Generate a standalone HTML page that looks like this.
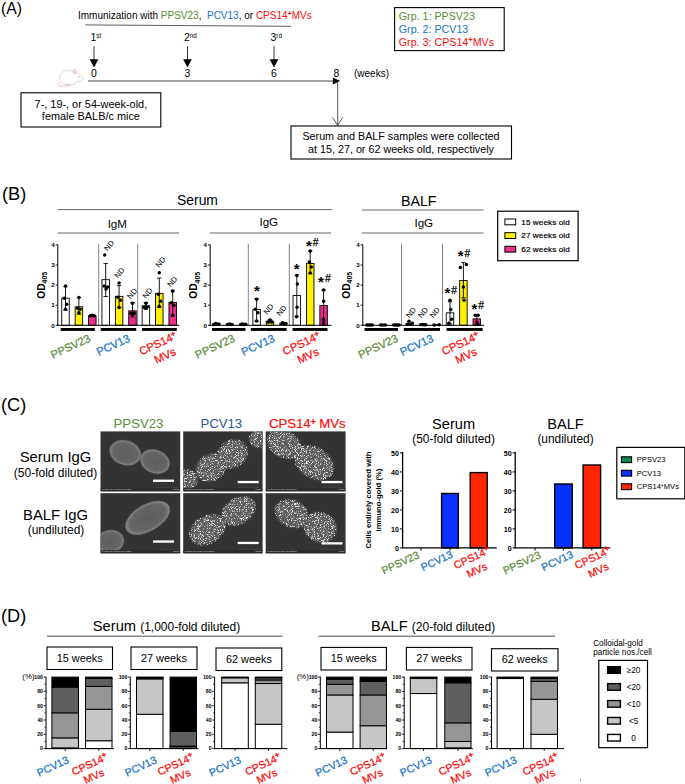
<!DOCTYPE html>
<html lang="en"><head><meta charset="utf-8"><title>Figure</title>
<style>
html,body{margin:0;padding:0;background:#fff;}
svg{display:block;font-family:"Liberation Sans",sans-serif;}
</style></head><body>
<svg width="685" height="784" viewBox="0 0 685 784">
<rect x="0" y="0" width="685" height="784" fill="#fff"/>
<text x="1" y="14.3" font-size="15.8" fill="#000" text-anchor="start" font-weight="normal" >(A)</text>
<text x="78" y="18.5" font-size="10" fill="#000" xml:space="preserve">Immunization with <tspan fill="#5a8c37">PPSV23</tspan>,  <tspan fill="#1a72c4">PCV13</tspan>, or <tspan fill="#fb0d0d">CPS14<tspan font-size="7" font-weight="bold" dy="-3">+</tspan><tspan dy="3">MVs</tspan></tspan></text>
<line x1="85.3" y1="24.9" x2="291" y2="26.3" stroke="#333" stroke-width="0.8" />
<text x="90.5" y="41.3" font-size="10.5" fill="#000">1<tspan font-size="6.3" dy="-3.5">st</tspan></text>
<line x1="94" y1="46.2" x2="94" y2="60" stroke="#000" stroke-width="0.8" />
<polygon points="89.7,59.3 98.3,59.3 94,67.4" fill="#000"/>
<text x="184.0" y="41.3" font-size="10.5" fill="#000">2<tspan font-size="6.3" dy="-3.5">nd</tspan></text>
<line x1="187.5" y1="46.2" x2="187.5" y2="60" stroke="#000" stroke-width="0.8" />
<polygon points="183.2,59.3 191.8,59.3 187.5,67.4" fill="#000"/>
<text x="270.5" y="41.3" font-size="10.5" fill="#000">3<tspan font-size="6.3" dy="-3.5">rd</tspan></text>
<line x1="274" y1="46.2" x2="274" y2="60" stroke="#000" stroke-width="0.8" />
<polygon points="269.7,59.3 278.3,59.3 274,67.4" fill="#000"/>
<text x="94" y="77.2" font-size="10.5" fill="#000" text-anchor="middle" font-weight="normal" >0</text>
<text x="187.5" y="77.2" font-size="10.5" fill="#000" text-anchor="middle" font-weight="normal" >3</text>
<text x="274" y="77.2" font-size="10.5" fill="#000" text-anchor="middle" font-weight="normal" >6</text>
<text x="336.5" y="77.2" font-size="10.5" fill="#000" text-anchor="middle" font-weight="normal" >8</text>
<text x="354" y="77" font-size="10" fill="#000" text-anchor="start" font-weight="normal" >(weeks)</text>
<line x1="88" y1="81" x2="335" y2="81" stroke="#333" stroke-width="0.9" />
<polygon points="332.8,77.6 340.3,81 332.8,84.4" fill="#000"/>
<g fill="#fff" stroke="#c9c9c9" stroke-width="0.7"><path d="M60.5,81.5 C58.5,77 60.5,71.5 66.5,70.8 C70,70.2 72.5,71 74.5,72.6 C77.5,72.4 80,74 81.5,76.2 C83.2,77.4 83.8,79 82.8,80 C81,81.6 78.5,81.8 76.5,81.6 C75.5,83.4 74,84.4 72,84.3 L64.5,84.3 C62.5,84.2 61,83 60.5,81.5 Z"/></g><g fill="none" stroke="#f2a3a3" stroke-width="0.7"><ellipse cx="74.6" cy="71.6" rx="1.7" ry="2" fill="#fbdcdc"/><path d="M60.8,82.3 C58,82.8 57.3,84.8 59.5,85.7 C63,86.8 67,85.3 71,85.6"/><path d="M66.5,84.4 l1.6,0.6 M73.8,83.8 l1.4,0.8"/></g><circle cx="79.6" cy="76.6" r="0.55" fill="#d66"/>
<rect x="21.00" y="92.80" width="139.80" height="34.20" fill="#fff" stroke="#000" stroke-width="1.1" />
<text x="90.9" y="108" font-size="10.9" fill="#000" text-anchor="middle" font-weight="normal" >7-, 19-, or 54-week-old,</text>
<text x="90.9" y="120.2" font-size="10.9" fill="#000" text-anchor="middle" font-weight="normal" >female BALB/c mice</text>
<line x1="337.7" y1="81" x2="337.7" y2="125.5" stroke="#444" stroke-width="0.9" />
<polyline points="332.7,117.5 337.7,125.5 342.7,117.5" fill="none" stroke="#444" stroke-width="0.9"/>
<rect x="291.00" y="126.00" width="220.50" height="33.00" fill="#fff" stroke="#000" stroke-width="1.1" />
<text x="401" y="139.5" font-size="10.75" fill="#000" text-anchor="middle" font-weight="normal" >Serum and BALF samples were collected</text>
<text x="401" y="152.5" font-size="10.75" fill="#000" text-anchor="middle" font-weight="normal" >at 15, 27, or 62 weeks old, respectively</text>
<rect x="394.60" y="7.60" width="109.60" height="43.00" fill="#fff" stroke="#000" stroke-width="1.1" />
<text x="398.8" y="20.2" font-size="10.7" fill="#5a8c37" text-anchor="start" font-weight="normal" >Grp. 1: PPSV23</text>
<text x="398.8" y="33" font-size="10.7" fill="#1a72c4" text-anchor="start" font-weight="normal" >Grp. 2: PCV13</text>
<text x="398.8" y="45.8" font-size="10.7" fill="#fb0d0d">Grp. 3: CPS14<tspan font-size="7.5" font-weight="bold" dy="-4">+</tspan><tspan dy="4">MVs</tspan></text>
<text x="197.5" y="205" font-size="13.9" fill="#000" text-anchor="middle" font-weight="normal" >Serum</text>
<line x1="57.5" y1="209.6" x2="332" y2="209.6" stroke="#666" stroke-width="1.0" />
<text x="117.3" y="227.6" font-size="11.6" fill="#000" text-anchor="middle" font-weight="normal" >IgM</text>
<line x1="57.5" y1="233" x2="179" y2="233" stroke="#666" stroke-width="1.0" />
<text x="268.8" y="225.8" font-size="11.6" fill="#000" text-anchor="middle" font-weight="normal" >IgG</text>
<line x1="210" y1="233" x2="331" y2="233" stroke="#666" stroke-width="1.0" />
<text x="418.8" y="205.5" font-size="14.2" fill="#000" text-anchor="middle" font-weight="normal" >BALF</text>
<line x1="362" y1="210" x2="483.5" y2="210" stroke="#666" stroke-width="1.0" />
<text x="423.8" y="226.8" font-size="11.6" fill="#000" text-anchor="middle" font-weight="normal" >IgG</text>
<line x1="362" y1="233" x2="483.5" y2="233" stroke="#666" stroke-width="1.0" />
<text x="2" y="199.6" font-size="18.2" fill="#000" text-anchor="start" font-weight="normal" >(B)</text>
<line x1="98.69999999999999" y1="243.8" x2="98.69999999999999" y2="325.3" stroke="#777" stroke-width="0.9" />
<line x1="137.7" y1="243.8" x2="137.7" y2="325.3" stroke="#777" stroke-width="0.9" />
<rect x="61.75" y="298.17" width="7.50" height="27.14" fill="#ffffff" stroke="#000" stroke-width="0.9" />
<line x1="65.5" y1="286.708" x2="65.5" y2="310.225" stroke="#000" stroke-width="0.9" />
<line x1="63.3" y1="286.708" x2="67.7" y2="286.708" stroke="#000" stroke-width="0.9" />
<line x1="63.3" y1="310.225" x2="67.7" y2="310.225" stroke="#000" stroke-width="0.9" />
<circle cx="65.50" cy="286.11" r="1.75" fill="#000"/>
<circle cx="64.30" cy="298.17" r="1.75" fill="#000"/>
<circle cx="66.70" cy="304.19" r="1.75" fill="#000"/>
<circle cx="65.50" cy="309.22" r="1.75" fill="#000"/>
<rect x="75.15" y="306.81" width="7.50" height="18.49" fill="#fff200" stroke="#000" stroke-width="0.9" />
<line x1="78.9" y1="297.562" x2="78.9" y2="314.245" stroke="#000" stroke-width="0.9" />
<line x1="76.7" y1="297.562" x2="81.10000000000001" y2="297.562" stroke="#000" stroke-width="0.9" />
<line x1="76.7" y1="314.245" x2="81.10000000000001" y2="314.245" stroke="#000" stroke-width="0.9" />
<circle cx="78.90" cy="297.56" r="1.75" fill="#000"/>
<circle cx="77.60" cy="308.22" r="1.75" fill="#000"/>
<circle cx="80.20" cy="309.22" r="1.75" fill="#000"/>
<circle cx="78.90" cy="312.84" r="1.75" fill="#000"/>
<rect x="88.55" y="315.85" width="7.50" height="9.45" fill="#e8308c" stroke="#000" stroke-width="0.9" />
<circle cx="90.50" cy="315.85" r="1.75" fill="#000"/>
<circle cx="92.30" cy="315.25" r="1.75" fill="#000"/>
<circle cx="94.10" cy="315.85" r="1.75" fill="#000"/>
<rect x="101.95" y="279.67" width="7.50" height="45.63" fill="#ffffff" stroke="#000" stroke-width="0.9" />
<line x1="105.7" y1="263.392" x2="105.7" y2="296.557" stroke="#000" stroke-width="0.9" />
<line x1="103.5" y1="263.392" x2="107.9" y2="263.392" stroke="#000" stroke-width="0.9" />
<line x1="103.5" y1="296.557" x2="107.9" y2="296.557" stroke="#000" stroke-width="0.9" />
<circle cx="104.70" cy="254.95" r="1.75" fill="#000"/>
<circle cx="104.10" cy="286.11" r="1.75" fill="#000"/>
<circle cx="106.00" cy="289.12" r="1.75" fill="#000"/>
<circle cx="107.50" cy="287.11" r="1.75" fill="#000"/>
<rect x="115.35" y="296.36" width="7.50" height="28.94" fill="#fff200" stroke="#000" stroke-width="0.9" />
<line x1="119.10000000000001" y1="285.70300000000003" x2="119.10000000000001" y2="307.612" stroke="#000" stroke-width="0.9" />
<line x1="116.9" y1="285.70300000000003" x2="121.30000000000001" y2="285.70300000000003" stroke="#000" stroke-width="0.9" />
<line x1="116.9" y1="307.612" x2="121.30000000000001" y2="307.612" stroke="#000" stroke-width="0.9" />
<circle cx="119.10" cy="283.09" r="1.75" fill="#000"/>
<circle cx="117.80" cy="297.16" r="1.75" fill="#000"/>
<circle cx="120.40" cy="300.18" r="1.75" fill="#000"/>
<circle cx="119.10" cy="307.61" r="1.75" fill="#000"/>
<rect x="128.75" y="310.83" width="7.50" height="14.47" fill="#e8308c" stroke="#000" stroke-width="0.9" />
<line x1="132.5" y1="302.587" x2="132.5" y2="316.858" stroke="#000" stroke-width="0.9" />
<line x1="130.3" y1="302.587" x2="134.7" y2="302.587" stroke="#000" stroke-width="0.9" />
<line x1="130.3" y1="316.858" x2="134.7" y2="316.858" stroke="#000" stroke-width="0.9" />
<circle cx="132.50" cy="303.19" r="1.75" fill="#000"/>
<circle cx="130.90" cy="313.24" r="1.75" fill="#000"/>
<circle cx="134.10" cy="313.24" r="1.75" fill="#000"/>
<circle cx="132.50" cy="314.25" r="1.75" fill="#000"/>
<rect x="142.15" y="305.80" width="7.50" height="19.50" fill="#ffffff" stroke="#000" stroke-width="0.9" />
<line x1="145.9" y1="302.587" x2="145.9" y2="309.22" stroke="#000" stroke-width="0.9" />
<line x1="143.70000000000002" y1="302.587" x2="148.1" y2="302.587" stroke="#000" stroke-width="0.9" />
<line x1="143.70000000000002" y1="309.22" x2="148.1" y2="309.22" stroke="#000" stroke-width="0.9" />
<circle cx="145.90" cy="303.19" r="1.75" fill="#000"/>
<circle cx="144.10" cy="307.21" r="1.75" fill="#000"/>
<circle cx="147.70" cy="306.81" r="1.75" fill="#000"/>
<circle cx="145.90" cy="308.22" r="1.75" fill="#000"/>
<rect x="155.55" y="293.34" width="7.50" height="31.96" fill="#fff200" stroke="#000" stroke-width="0.9" />
<line x1="159.3" y1="278.065" x2="159.3" y2="307.612" stroke="#000" stroke-width="0.9" />
<line x1="157.10000000000002" y1="278.065" x2="161.5" y2="278.065" stroke="#000" stroke-width="0.9" />
<line x1="157.10000000000002" y1="307.612" x2="161.5" y2="307.612" stroke="#000" stroke-width="0.9" />
<circle cx="159.30" cy="272.64" r="1.75" fill="#000"/>
<circle cx="158.30" cy="294.14" r="1.75" fill="#000"/>
<circle cx="160.60" cy="301.18" r="1.75" fill="#000"/>
<circle cx="159.30" cy="306.21" r="1.75" fill="#000"/>
<rect x="168.95" y="302.39" width="7.50" height="22.91" fill="#e8308c" stroke="#000" stroke-width="0.9" />
<line x1="172.70000000000002" y1="290.125" x2="172.70000000000002" y2="315.853" stroke="#000" stroke-width="0.9" />
<line x1="170.50000000000003" y1="290.125" x2="174.9" y2="290.125" stroke="#000" stroke-width="0.9" />
<line x1="170.50000000000003" y1="315.853" x2="174.9" y2="315.853" stroke="#000" stroke-width="0.9" />
<circle cx="172.70" cy="291.13" r="1.75" fill="#000"/>
<circle cx="171.50" cy="302.79" r="1.75" fill="#000"/>
<circle cx="173.90" cy="305.20" r="1.75" fill="#000"/>
<circle cx="172.70" cy="315.25" r="1.75" fill="#000"/>
<line x1="57.8" y1="244.5" x2="57.8" y2="325.8" stroke="#000" stroke-width="1.0" />
<line x1="57.3" y1="325.3" x2="179.3" y2="325.3" stroke="#000" stroke-width="1.0" />
<line x1="55.599999999999994" y1="325.3" x2="57.8" y2="325.3" stroke="#000" stroke-width="0.9" />
<text x="54.599999999999994" y="327.5" font-size="6.2" fill="#000" text-anchor="end" font-weight="bold" >0</text>
<line x1="55.599999999999994" y1="305.2" x2="57.8" y2="305.2" stroke="#000" stroke-width="0.9" />
<text x="54.599999999999994" y="307.4" font-size="6.2" fill="#000" text-anchor="end" font-weight="bold" >1</text>
<line x1="55.599999999999994" y1="285.1" x2="57.8" y2="285.1" stroke="#000" stroke-width="0.9" />
<text x="54.599999999999994" y="287.3" font-size="6.2" fill="#000" text-anchor="end" font-weight="bold" >2</text>
<line x1="55.599999999999994" y1="265.0" x2="57.8" y2="265.0" stroke="#000" stroke-width="0.9" />
<text x="54.599999999999994" y="267.2" font-size="6.2" fill="#000" text-anchor="end" font-weight="bold" >3</text>
<line x1="55.599999999999994" y1="244.9" x2="57.8" y2="244.9" stroke="#000" stroke-width="0.9" />
<text x="54.599999999999994" y="247.1" font-size="6.2" fill="#000" text-anchor="end" font-weight="bold" >4</text>
<rect x="60.60" y="328" width="34.20" height="2.9" fill="#000"/>
<rect x="100.70" y="328" width="35.50" height="2.9" fill="#000"/>
<rect x="142.00" y="328" width="34.80" height="2.9" fill="#000"/>
<text transform="translate(44.5,285.3) rotate(-90)" font-size="10.2" font-weight="bold" text-anchor="middle" fill="#000">OD<tspan font-size="6.9" dy="2.6">405</tspan></text>
<text transform="translate(91.3,341) rotate(-25)" font-size="11.2" fill="#5a8c37" stroke="#5a8c37" stroke-width="0.25" text-anchor="end" font-weight="normal">PPSV23</text>
<text transform="translate(130.8,341) rotate(-25)" font-size="11.2" fill="#1a72c4" stroke="#1a72c4" stroke-width="0.25" text-anchor="end" font-weight="normal">PCV13</text>
<text transform="translate(177.8,338.5) rotate(-25)" font-size="11.2" fill="#fb0d0d" stroke="#fb0d0d" stroke-width="0.25" text-anchor="end">CPS14<tspan font-size="8" dy="-3.5" font-weight="bold">+</tspan></text>
<text transform="translate(176.8,354.5) rotate(-25)" font-size="11.2" fill="#fb0d0d" stroke="#fb0d0d" stroke-width="0.25" text-anchor="end" font-weight="normal">MVs</text>
<text transform="translate(107.5,251.4) rotate(-50)" font-size="7.6" fill="#000">ND</text>
<text transform="translate(117.9,278.8) rotate(-50)" font-size="7.6" fill="#000">ND</text>
<text transform="translate(130.6,299.4) rotate(-50)" font-size="7.6" fill="#000">ND</text>
<text transform="translate(146,299) rotate(-50)" font-size="7.6" fill="#000">ND</text>
<text transform="translate(159,268) rotate(-50)" font-size="7.6" fill="#000">ND</text>
<text transform="translate(170.7,287.6) rotate(-50)" font-size="7.6" fill="#000">ND</text>
<line x1="248.29999999999998" y1="243.8" x2="248.29999999999998" y2="325.3" stroke="#777" stroke-width="0.9" />
<line x1="289.29999999999995" y1="243.8" x2="289.29999999999995" y2="325.3" stroke="#777" stroke-width="0.9" />
<line x1="212.29999999999998" y1="324.094" x2="220.49999999999997" y2="324.094" stroke="#000" stroke-width="1.0" />
<circle cx="213.90" cy="324.50" r="1.75" fill="#000"/>
<circle cx="215.60" cy="323.49" r="1.75" fill="#000"/>
<circle cx="217.30" cy="324.30" r="1.75" fill="#000"/>
<circle cx="218.90" cy="323.89" r="1.75" fill="#000"/>
<line x1="225.7" y1="324.49600000000004" x2="233.89999999999998" y2="324.49600000000004" stroke="#000" stroke-width="1.0" />
<circle cx="227.60" cy="324.50" r="1.75" fill="#000"/>
<circle cx="229.80" cy="324.09" r="1.75" fill="#000"/>
<circle cx="232.00" cy="324.50" r="1.75" fill="#000"/>
<line x1="239.1" y1="324.49600000000004" x2="247.29999999999998" y2="324.49600000000004" stroke="#000" stroke-width="1.0" />
<circle cx="240.70" cy="324.50" r="1.75" fill="#000"/>
<circle cx="242.40" cy="324.09" r="1.75" fill="#000"/>
<circle cx="244.10" cy="324.50" r="1.75" fill="#000"/>
<circle cx="245.70" cy="324.30" r="1.75" fill="#000"/>
<rect x="252.85" y="309.62" width="7.50" height="15.68" fill="#ffffff" stroke="#000" stroke-width="0.9" />
<line x1="256.59999999999997" y1="298.567" x2="256.59999999999997" y2="321.28000000000003" stroke="#000" stroke-width="0.9" />
<line x1="254.39999999999998" y1="298.567" x2="258.79999999999995" y2="298.567" stroke="#000" stroke-width="0.9" />
<line x1="254.39999999999998" y1="321.28000000000003" x2="258.79999999999995" y2="321.28000000000003" stroke="#000" stroke-width="0.9" />
<circle cx="256.60" cy="299.17" r="1.75" fill="#000"/>
<circle cx="255.30" cy="309.22" r="1.75" fill="#000"/>
<circle cx="257.90" cy="312.84" r="1.75" fill="#000"/>
<circle cx="256.60" cy="320.88" r="1.75" fill="#000"/>
<rect x="266.25" y="321.28" width="7.50" height="4.02" fill="#fff200" stroke="#000" stroke-width="0.9" />
<line x1="269.99999999999994" y1="319.672" x2="269.99999999999994" y2="322.88800000000003" stroke="#000" stroke-width="0.9" />
<line x1="267.79999999999995" y1="319.672" x2="272.19999999999993" y2="319.672" stroke="#000" stroke-width="0.9" />
<line x1="267.79999999999995" y1="322.88800000000003" x2="272.19999999999993" y2="322.88800000000003" stroke="#000" stroke-width="0.9" />
<circle cx="268.00" cy="322.08" r="1.75" fill="#000"/>
<circle cx="270.00" cy="320.07" r="1.75" fill="#000"/>
<circle cx="272.00" cy="322.08" r="1.75" fill="#000"/>
<line x1="279.29999999999995" y1="323.692" x2="287.5" y2="323.692" stroke="#000" stroke-width="1.0" />
<circle cx="281.10" cy="323.89" r="1.75" fill="#000"/>
<circle cx="282.70" cy="322.69" r="1.75" fill="#000"/>
<circle cx="284.40" cy="323.89" r="1.75" fill="#000"/>
<circle cx="285.90" cy="323.49" r="1.75" fill="#000"/>
<rect x="293.05" y="295.55" width="7.50" height="29.75" fill="#ffffff" stroke="#000" stroke-width="0.9" />
<line x1="296.79999999999995" y1="275.05" x2="296.79999999999995" y2="316.255" stroke="#000" stroke-width="0.9" />
<line x1="294.59999999999997" y1="275.05" x2="298.99999999999994" y2="275.05" stroke="#000" stroke-width="0.9" />
<line x1="294.59999999999997" y1="316.255" x2="298.99999999999994" y2="316.255" stroke="#000" stroke-width="0.9" />
<circle cx="296.80" cy="275.45" r="1.75" fill="#000"/>
<circle cx="297.40" cy="284.10" r="1.75" fill="#000"/>
<circle cx="297.10" cy="307.21" r="1.75" fill="#000"/>
<circle cx="296.50" cy="316.86" r="1.75" fill="#000"/>
<rect x="306.45" y="263.39" width="7.50" height="61.91" fill="#fff200" stroke="#000" stroke-width="0.9" />
<line x1="310.19999999999993" y1="250.93" x2="310.19999999999993" y2="273.64300000000003" stroke="#000" stroke-width="0.9" />
<line x1="307.99999999999994" y1="250.93" x2="312.3999999999999" y2="250.93" stroke="#000" stroke-width="0.9" />
<line x1="307.99999999999994" y1="273.64300000000003" x2="312.3999999999999" y2="273.64300000000003" stroke="#000" stroke-width="0.9" />
<circle cx="310.20" cy="250.93" r="1.75" fill="#000"/>
<circle cx="309.40" cy="261.99" r="1.75" fill="#000"/>
<circle cx="311.20" cy="267.01" r="1.75" fill="#000"/>
<circle cx="310.20" cy="273.04" r="1.75" fill="#000"/>
<rect x="319.85" y="305.60" width="7.50" height="19.70" fill="#e8308c" stroke="#000" stroke-width="0.9" />
<line x1="323.59999999999997" y1="290.125" x2="323.59999999999997" y2="321.28000000000003" stroke="#000" stroke-width="0.9" />
<line x1="321.4" y1="290.125" x2="325.79999999999995" y2="290.125" stroke="#000" stroke-width="0.9" />
<line x1="321.4" y1="321.28000000000003" x2="325.79999999999995" y2="321.28000000000003" stroke="#000" stroke-width="0.9" />
<circle cx="323.60" cy="290.12" r="1.75" fill="#000"/>
<circle cx="323.60" cy="301.18" r="1.75" fill="#000"/>
<circle cx="323.60" cy="319.27" r="1.75" fill="#000"/>
<circle cx="323.60" cy="323.29" r="1.75" fill="#000"/>
<line x1="210.2" y1="244.5" x2="210.2" y2="325.8" stroke="#000" stroke-width="1.0" />
<line x1="209.7" y1="325.3" x2="331.7" y2="325.3" stroke="#000" stroke-width="1.0" />
<line x1="208.0" y1="325.3" x2="210.2" y2="325.3" stroke="#000" stroke-width="0.9" />
<text x="207.0" y="327.5" font-size="6.2" fill="#000" text-anchor="end" font-weight="bold" >0</text>
<line x1="208.0" y1="305.2" x2="210.2" y2="305.2" stroke="#000" stroke-width="0.9" />
<text x="207.0" y="307.4" font-size="6.2" fill="#000" text-anchor="end" font-weight="bold" >1</text>
<line x1="208.0" y1="285.1" x2="210.2" y2="285.1" stroke="#000" stroke-width="0.9" />
<text x="207.0" y="287.3" font-size="6.2" fill="#000" text-anchor="end" font-weight="bold" >2</text>
<line x1="208.0" y1="265.0" x2="210.2" y2="265.0" stroke="#000" stroke-width="0.9" />
<text x="207.0" y="267.2" font-size="6.2" fill="#000" text-anchor="end" font-weight="bold" >3</text>
<line x1="208.0" y1="244.9" x2="210.2" y2="244.9" stroke="#000" stroke-width="0.9" />
<text x="207.0" y="247.1" font-size="6.2" fill="#000" text-anchor="end" font-weight="bold" >4</text>
<rect x="212.00" y="328" width="33.50" height="2.9" fill="#000"/>
<rect x="250.80" y="328" width="35.80" height="2.9" fill="#000"/>
<rect x="292.50" y="328" width="35.00" height="2.9" fill="#000"/>
<text transform="translate(197,285.3) rotate(-90)" font-size="10.2" font-weight="bold" text-anchor="middle" fill="#000">OD<tspan font-size="6.9" dy="2.6">405</tspan></text>
<text transform="translate(235.7,341) rotate(-25)" font-size="11.2" fill="#5a8c37" stroke="#5a8c37" stroke-width="0.25" text-anchor="end" font-weight="normal">PPSV23</text>
<text transform="translate(275.7,341) rotate(-25)" font-size="11.2" fill="#1a72c4" stroke="#1a72c4" stroke-width="0.25" text-anchor="end" font-weight="normal">PCV13</text>
<text transform="translate(321.2,338.5) rotate(-25)" font-size="11.2" fill="#fb0d0d" stroke="#fb0d0d" stroke-width="0.25" text-anchor="end">CPS14<tspan font-size="8" dy="-3.5" font-weight="bold">+</tspan></text>
<text transform="translate(319.7,354.5) rotate(-25)" font-size="11.2" fill="#fb0d0d" stroke="#fb0d0d" stroke-width="0.25" text-anchor="end" font-weight="normal">MVs</text>
<text x="256.9" y="295.5" font-size="15" fill="#000" text-anchor="middle" font-weight="bold" >*</text>
<text transform="translate(267.0,315.0) rotate(-50)" font-size="7.6" fill="#000">ND</text>
<text transform="translate(280.0,316.5) rotate(-50)" font-size="7.6" fill="#000">ND</text>
<text x="296.6" y="273.5" font-size="15" fill="#000" text-anchor="middle" font-weight="bold" >*</text>
<text x="308.8" y="250.5" font-size="15" fill="#000" text-anchor="middle" font-weight="bold" >*</text>
<text x="315.59999999999997" y="246.4" font-size="10.3" fill="#000" text-anchor="middle" font-weight="normal" stroke="#000" stroke-width="0.25">#</text>
<text x="321.0" y="286.5" font-size="15" fill="#000" text-anchor="middle" font-weight="bold" >*</text>
<text x="327.79999999999995" y="282.4" font-size="10.3" fill="#000" text-anchor="middle" font-weight="normal" stroke="#000" stroke-width="0.25">#</text>
<line x1="401.5" y1="243.8" x2="401.5" y2="325.3" stroke="#777" stroke-width="0.9" />
<line x1="442.5" y1="243.8" x2="442.5" y2="325.3" stroke="#777" stroke-width="0.9" />
<line x1="365.5" y1="324.7" x2="373.70000000000005" y2="324.7" stroke="#000" stroke-width="1.0" />
<circle cx="367.00" cy="324.90" r="1.75" fill="#000"/>
<circle cx="368.70" cy="324.90" r="1.75" fill="#000"/>
<circle cx="370.50" cy="324.90" r="1.75" fill="#000"/>
<circle cx="372.20" cy="324.90" r="1.75" fill="#000"/>
<line x1="378.9" y1="324.7" x2="387.1" y2="324.7" stroke="#000" stroke-width="1.0" />
<circle cx="380.80" cy="324.90" r="1.75" fill="#000"/>
<circle cx="383.00" cy="324.90" r="1.75" fill="#000"/>
<circle cx="385.20" cy="324.90" r="1.75" fill="#000"/>
<line x1="392.3" y1="324.7" x2="400.50000000000006" y2="324.7" stroke="#000" stroke-width="1.0" />
<circle cx="393.80" cy="324.90" r="1.75" fill="#000"/>
<circle cx="395.50" cy="324.90" r="1.75" fill="#000"/>
<circle cx="397.30" cy="324.90" r="1.75" fill="#000"/>
<circle cx="399.00" cy="324.90" r="1.75" fill="#000"/>
<line x1="405.7" y1="324.094" x2="413.90000000000003" y2="324.094" stroke="#000" stroke-width="1.0" />
<circle cx="407.40" cy="324.30" r="1.75" fill="#000"/>
<circle cx="409.00" cy="321.28" r="1.75" fill="#000"/>
<circle cx="410.70" cy="324.30" r="1.75" fill="#000"/>
<circle cx="412.30" cy="323.29" r="1.75" fill="#000"/>
<line x1="419.09999999999997" y1="324.697" x2="427.3" y2="324.697" stroke="#000" stroke-width="1.0" />
<circle cx="420.70" cy="324.70" r="1.75" fill="#000"/>
<circle cx="422.40" cy="324.50" r="1.75" fill="#000"/>
<circle cx="424.10" cy="324.70" r="1.75" fill="#000"/>
<circle cx="425.70" cy="324.70" r="1.75" fill="#000"/>
<line x1="432.5" y1="324.7" x2="440.70000000000005" y2="324.7" stroke="#000" stroke-width="1.0" />
<circle cx="434.20" cy="324.90" r="1.75" fill="#000"/>
<circle cx="439.20" cy="324.70" r="1.75" fill="#000"/>
<rect x="446.25" y="312.84" width="7.50" height="12.46" fill="#ffffff" stroke="#000" stroke-width="0.9" />
<line x1="450.0" y1="301.783" x2="450.0" y2="323.89300000000003" stroke="#000" stroke-width="0.9" />
<line x1="447.8" y1="301.783" x2="452.2" y2="301.783" stroke="#000" stroke-width="0.9" />
<line x1="447.8" y1="323.89300000000003" x2="452.2" y2="323.89300000000003" stroke="#000" stroke-width="0.9" />
<circle cx="450.00" cy="300.18" r="1.75" fill="#000"/>
<circle cx="450.80" cy="309.62" r="1.75" fill="#000"/>
<circle cx="451.60" cy="319.27" r="1.75" fill="#000"/>
<circle cx="448.80" cy="323.29" r="1.75" fill="#000"/>
<rect x="459.65" y="280.48" width="7.50" height="44.82" fill="#fff200" stroke="#000" stroke-width="0.9" />
<line x1="463.4" y1="262.588" x2="463.4" y2="297.76300000000003" stroke="#000" stroke-width="0.9" />
<line x1="461.2" y1="262.588" x2="465.59999999999997" y2="262.588" stroke="#000" stroke-width="0.9" />
<line x1="461.2" y1="297.76300000000003" x2="465.59999999999997" y2="297.76300000000003" stroke="#000" stroke-width="0.9" />
<circle cx="460.40" cy="267.41" r="1.75" fill="#000"/>
<circle cx="466.40" cy="264.60" r="1.75" fill="#000"/>
<circle cx="463.40" cy="287.11" r="1.75" fill="#000"/>
<circle cx="464.00" cy="300.18" r="1.75" fill="#000"/>
<rect x="473.05" y="318.87" width="7.50" height="6.43" fill="#e8308c" stroke="#000" stroke-width="0.9" />
<line x1="476.8" y1="314.647" x2="476.8" y2="323.89300000000003" stroke="#000" stroke-width="0.9" />
<line x1="474.6" y1="314.647" x2="479.0" y2="314.647" stroke="#000" stroke-width="0.9" />
<line x1="474.6" y1="323.89300000000003" x2="479.0" y2="323.89300000000003" stroke="#000" stroke-width="0.9" />
<circle cx="475.20" cy="315.25" r="1.75" fill="#000"/>
<circle cx="478.20" cy="315.25" r="1.75" fill="#000"/>
<circle cx="476.80" cy="322.29" r="1.75" fill="#000"/>
<circle cx="477.80" cy="324.30" r="1.75" fill="#000"/>
<line x1="362.8" y1="244.5" x2="362.8" y2="325.8" stroke="#000" stroke-width="1.0" />
<line x1="362.3" y1="325.3" x2="484.3" y2="325.3" stroke="#000" stroke-width="1.0" />
<line x1="360.6" y1="325.3" x2="362.8" y2="325.3" stroke="#000" stroke-width="0.9" />
<text x="359.6" y="327.5" font-size="6.2" fill="#000" text-anchor="end" font-weight="bold" >0</text>
<line x1="360.6" y1="305.2" x2="362.8" y2="305.2" stroke="#000" stroke-width="0.9" />
<text x="359.6" y="307.4" font-size="6.2" fill="#000" text-anchor="end" font-weight="bold" >1</text>
<line x1="360.6" y1="285.1" x2="362.8" y2="285.1" stroke="#000" stroke-width="0.9" />
<text x="359.6" y="287.3" font-size="6.2" fill="#000" text-anchor="end" font-weight="bold" >2</text>
<line x1="360.6" y1="265.0" x2="362.8" y2="265.0" stroke="#000" stroke-width="0.9" />
<text x="359.6" y="267.2" font-size="6.2" fill="#000" text-anchor="end" font-weight="bold" >3</text>
<line x1="360.6" y1="244.9" x2="362.8" y2="244.9" stroke="#000" stroke-width="0.9" />
<text x="359.6" y="247.1" font-size="6.2" fill="#000" text-anchor="end" font-weight="bold" >4</text>
<rect x="364.50" y="328" width="33.50" height="2.9" fill="#000"/>
<rect x="403.80" y="328" width="36.20" height="2.9" fill="#000"/>
<rect x="446.50" y="328" width="36.20" height="2.9" fill="#000"/>
<text transform="translate(349.5,285.3) rotate(-90)" font-size="10.2" font-weight="bold" text-anchor="middle" fill="#000">OD<tspan font-size="6.9" dy="2.6">405</tspan></text>
<text transform="translate(398.8,341) rotate(-25)" font-size="11.2" fill="#5a8c37" stroke="#5a8c37" stroke-width="0.25" text-anchor="end" font-weight="normal">PPSV23</text>
<text transform="translate(434.3,341) rotate(-25)" font-size="11.2" fill="#1a72c4" stroke="#1a72c4" stroke-width="0.25" text-anchor="end" font-weight="normal">PCV13</text>
<text transform="translate(480.3,338.5) rotate(-25)" font-size="11.2" fill="#fb0d0d" stroke="#fb0d0d" stroke-width="0.25" text-anchor="end">CPS14<tspan font-size="8" dy="-3.5" font-weight="bold">+</tspan></text>
<text transform="translate(477.8,354.5) rotate(-25)" font-size="11.2" fill="#fb0d0d" stroke="#fb0d0d" stroke-width="0.25" text-anchor="end" font-weight="normal">MVs</text>
<text transform="translate(409.5,318.5) rotate(-50)" font-size="7.6" fill="#000">ND</text>
<text transform="translate(421.5,318.5) rotate(-50)" font-size="7.6" fill="#000">ND</text>
<text transform="translate(433.3,318.5) rotate(-50)" font-size="7.6" fill="#000">ND</text>
<text x="447.40000000000003" y="298.0" font-size="15" fill="#000" text-anchor="middle" font-weight="bold" >*</text>
<text x="454.2" y="293.9" font-size="10.3" fill="#000" text-anchor="middle" font-weight="normal" stroke="#000" stroke-width="0.25">#</text>
<text x="460.6" y="261.0" font-size="15" fill="#000" text-anchor="middle" font-weight="bold" >*</text>
<text x="467.4" y="256.9" font-size="10.3" fill="#000" text-anchor="middle" font-weight="normal" stroke="#000" stroke-width="0.25">#</text>
<text x="474.40000000000003" y="313.5" font-size="15" fill="#000" text-anchor="middle" font-weight="bold" >*</text>
<text x="481.2" y="309.4" font-size="10.3" fill="#000" text-anchor="middle" font-weight="normal" stroke="#000" stroke-width="0.25">#</text>
<rect x="497.70" y="211.20" width="80.40" height="49.50" fill="#fff" stroke="#000" stroke-width="1.2" />
<rect x="504.90" y="219.00" width="10.80" height="5.80" fill="#ffffff" stroke="#000" stroke-width="1.0" />
<text x="521.3" y="224.8" font-size="8.1" fill="#000" text-anchor="start" font-weight="normal" stroke="#000" stroke-width="0.2" letter-spacing="0.1">15 weeks old</text>
<rect x="504.90" y="232.65" width="10.80" height="5.80" fill="#fff200" stroke="#000" stroke-width="1.0" />
<text x="521.3" y="238.45000000000002" font-size="8.1" fill="#000" text-anchor="start" font-weight="normal" stroke="#000" stroke-width="0.2" letter-spacing="0.1">27 weeks old</text>
<rect x="504.90" y="246.30" width="10.80" height="5.80" fill="#e8308c" stroke="#000" stroke-width="1.0" />
<text x="521.3" y="252.10000000000002" font-size="8.1" fill="#000" text-anchor="start" font-weight="normal" stroke="#000" stroke-width="0.2" letter-spacing="0.1">62 weeks old</text>
<text x="1" y="410.5" font-size="18.2" fill="#000" text-anchor="start" font-weight="normal" >(C)</text>
<text x="138.5" y="428.3" font-size="13.2" fill="#5a8c37" text-anchor="middle" font-weight="normal" >PPSV23</text>
<text x="221.3" y="428.3" font-size="13.2" fill="#2f5597" text-anchor="middle" font-weight="normal" >PCV13</text>
<text x="307.3" y="428" font-size="13.2" fill="#fb0d0d" stroke="#fb0d0d" stroke-width="0.2" text-anchor="middle">CPS14<tspan font-size="8.5" font-weight="bold" dy="-3.5">+</tspan><tspan dy="3.5"> MVs</tspan></text>
<text x="55.5" y="461.5" font-size="14.8" fill="#000" text-anchor="middle" font-weight="normal" >Serum IgG</text>
<text x="55.5" y="476.5" font-size="12" fill="#000" text-anchor="middle" font-weight="normal" >(50-fold diluted)</text>
<text x="55.5" y="519.5" font-size="14.8" fill="#000" text-anchor="middle" font-weight="normal" >BALF IgG</text>
<text x="56" y="534.3" font-size="12" fill="#000" text-anchor="middle" font-weight="normal" >(undiluted)</text>
<defs>
<filter id="spk" x="-5%" y="-5%" width="110%" height="110%" color-interpolation-filters="sRGB">
<feTurbulence type="fractalNoise" baseFrequency="1.35" numOctaves="2" seed="4" result="n"/>
<feColorMatrix in="n" type="matrix" values="0 0 0 0 0.9  0 0 0 0 0.9  0 0 0 0 0.9  5 0 0 0 -2.55" result="w"/>
<feComposite in="w" in2="SourceGraphic" operator="in" result="c"/>
<feGaussianBlur in="c" stdDeviation="0.4"/>
</filter>
<filter id="bl" x="-10%" y="-10%" width="120%" height="120%"><feGaussianBlur stdDeviation="0.5"/></filter>
<filter id="bl2" x="-10%" y="-10%" width="120%" height="120%"><feGaussianBlur stdDeviation="0.9"/></filter>
<radialGradient id="cellg" cx="50%" cy="50%" r="50%"><stop offset="0" stop-color="#5c5c5c"/><stop offset="0.8" stop-color="#666"/><stop offset="1" stop-color="#8a8a8a"/></radialGradient>
</defs>
<clipPath id="tc1"><rect x="100.5" y="431.4" width="79.70" height="60.00"/></clipPath>
<rect x="100.5" y="431.4" width="79.70" height="60.00" fill="#333"/>
<g clip-path="url(#tc1)">
<ellipse cx="125.3" cy="452.8" rx="16" ry="12.2" transform="rotate(18 125.3 452.8)" fill="url(#cellg)" filter="url(#bl)"/>
<ellipse cx="155" cy="461.5" rx="15" ry="11.6" transform="rotate(22 155 461.5)" fill="url(#cellg)" filter="url(#bl)"/>
<rect x="100.5" y="488.2" width="79.70" height="3.2" fill="#2c2c2c"/>
<text x="102.0" y="490.29999999999995" font-size="1.9" fill="#ddd">S-4800 5.0kV 3.9mm x70.0k SE(M)</text>
<text x="179.0" y="490.29999999999995" font-size="1.9" fill="#ddd" text-anchor="end">500nm</text>
<line x1="156.2" y1="487.29999999999995" x2="178.2" y2="487.29999999999995" stroke="#aaa" stroke-width="0.5" stroke-dasharray="0.5 1.7"/>
<rect x="153" y="479.6" width="21" height="2.3" fill="#fff"/>
</g>
<clipPath id="tc2"><rect x="100.5" y="493.2" width="79.70" height="60.20"/></clipPath>
<rect x="100.5" y="493.2" width="79.70" height="60.20" fill="#333"/>
<g clip-path="url(#tc2)">
<ellipse cx="147.6" cy="517.8" rx="24.5" ry="13.3" transform="rotate(-30 147.6 517.8)" fill="url(#cellg)" filter="url(#bl)"/>
<ellipse cx="110" cy="541.5" rx="14" ry="11.2" transform="rotate(-10 110 541.5)" fill="url(#cellg)" filter="url(#bl)"/>
<rect x="100.5" y="550.1999999999999" width="79.70" height="3.2" fill="#2c2c2c"/>
<text x="102.0" y="552.3" font-size="1.9" fill="#ddd">S-4800 5.0kV 3.9mm x70.0k SE(M)</text>
<text x="179.0" y="552.3" font-size="1.9" fill="#ddd" text-anchor="end">500nm</text>
<line x1="156.2" y1="549.3" x2="178.2" y2="549.3" stroke="#aaa" stroke-width="0.5" stroke-dasharray="0.5 1.7"/>
<rect x="153" y="540.4" width="21" height="2.3" fill="#fff"/>
</g>
<clipPath id="tc3"><rect x="183.2" y="431.4" width="79.40" height="60.00"/></clipPath>
<rect x="183.2" y="431.4" width="79.40" height="60.00" fill="#333"/>
<g clip-path="url(#tc3)">
<ellipse cx="210.8" cy="467.8" rx="15.3" ry="12.8" transform="rotate(-32 210.8 467.8)" fill="#5c5c5c" filter="url(#bl2)"/>
<ellipse cx="232.2" cy="453.9" rx="15.5" ry="13.2" transform="rotate(-34 232.2 453.9)" fill="#5c5c5c" filter="url(#bl2)"/>
<ellipse cx="187.4" cy="479.5" rx="10" ry="9.5" transform="rotate(0 187.4 479.5)" fill="#5c5c5c" filter="url(#bl2)"/>
<ellipse cx="258.6" cy="439" rx="9" ry="8.5" transform="rotate(0 258.6 439)" fill="#5c5c5c" filter="url(#bl2)"/>
<g filter="url(#spk)">
<ellipse cx="210.8" cy="467.8" rx="16.1" ry="13.600000000000001" transform="rotate(-32 210.8 467.8)" fill="#fff"/>
<ellipse cx="232.2" cy="453.9" rx="16.3" ry="14.0" transform="rotate(-34 232.2 453.9)" fill="#fff"/>
<ellipse cx="187.4" cy="479.5" rx="10.8" ry="10.3" transform="rotate(0 187.4 479.5)" fill="#fff"/>
<ellipse cx="258.6" cy="439" rx="9.8" ry="9.3" transform="rotate(0 258.6 439)" fill="#fff"/>
</g>
<rect x="183.2" y="488.2" width="79.40" height="3.2" fill="#2c2c2c"/>
<text x="184.7" y="490.29999999999995" font-size="1.9" fill="#ddd">S-4800 5.0kV 3.9mm x70.0k SE(M)</text>
<text x="261.40000000000003" y="490.29999999999995" font-size="1.9" fill="#ddd" text-anchor="end">500nm</text>
<line x1="238.60000000000002" y1="487.29999999999995" x2="260.6" y2="487.29999999999995" stroke="#aaa" stroke-width="0.5" stroke-dasharray="0.5 1.7"/>
<rect x="237.7" y="480.9" width="21" height="2.3" fill="#fff"/>
</g>
<clipPath id="tc4"><rect x="183.2" y="493.2" width="79.40" height="60.20"/></clipPath>
<rect x="183.2" y="493.2" width="79.40" height="60.20" fill="#333"/>
<g clip-path="url(#tc4)">
<ellipse cx="207.3" cy="529.8" rx="18.8" ry="13.4" transform="rotate(-30 207.3 529.8)" fill="#5c5c5c" filter="url(#bl2)"/>
<ellipse cx="238.4" cy="511" rx="18" ry="12.4" transform="rotate(-32 238.4 511)" fill="#5c5c5c" filter="url(#bl2)"/>
<g filter="url(#spk)">
<ellipse cx="207.3" cy="529.8" rx="19.6" ry="14.200000000000001" transform="rotate(-30 207.3 529.8)" fill="#fff"/>
<ellipse cx="238.4" cy="511" rx="18.8" ry="13.200000000000001" transform="rotate(-32 238.4 511)" fill="#fff"/>
</g>
<rect x="183.2" y="550.1999999999999" width="79.40" height="3.2" fill="#2c2c2c"/>
<text x="184.7" y="552.3" font-size="1.9" fill="#ddd">S-4800 5.0kV 3.9mm x70.0k SE(M)</text>
<text x="261.40000000000003" y="552.3" font-size="1.9" fill="#ddd" text-anchor="end">500nm</text>
<line x1="238.60000000000002" y1="549.3" x2="260.6" y2="549.3" stroke="#aaa" stroke-width="0.5" stroke-dasharray="0.5 1.7"/>
<rect x="237.7" y="541.8" width="21" height="2.3" fill="#fff"/>
</g>
<clipPath id="tc5"><rect x="265.7" y="431.4" width="79.90" height="60.00"/></clipPath>
<rect x="265.7" y="431.4" width="79.90" height="60.00" fill="#333"/>
<g clip-path="url(#tc5)">
<ellipse cx="284.2" cy="444.1" rx="17.6" ry="12.6" transform="rotate(30 284.2 444.1)" fill="#5c5c5c" filter="url(#bl2)"/>
<ellipse cx="314" cy="462.7" rx="21" ry="14.8" transform="rotate(32 314 462.7)" fill="#5c5c5c" filter="url(#bl2)"/>
<g filter="url(#spk)">
<ellipse cx="284.2" cy="444.1" rx="18.400000000000002" ry="13.4" transform="rotate(30 284.2 444.1)" fill="#fff"/>
<ellipse cx="314" cy="462.7" rx="21.8" ry="15.600000000000001" transform="rotate(32 314 462.7)" fill="#fff"/>
</g>
<rect x="265.7" y="488.2" width="79.90" height="3.2" fill="#2c2c2c"/>
<text x="267.2" y="490.29999999999995" font-size="1.9" fill="#ddd">S-4800 5.0kV 3.9mm x70.0k SE(M)</text>
<text x="344.40000000000003" y="490.29999999999995" font-size="1.9" fill="#ddd" text-anchor="end">500nm</text>
<line x1="321.6" y1="487.29999999999995" x2="343.6" y2="487.29999999999995" stroke="#aaa" stroke-width="0.5" stroke-dasharray="0.5 1.7"/>
<rect x="321.5" y="480.9" width="21" height="2.3" fill="#fff"/>
</g>
<clipPath id="tc6"><rect x="265.7" y="493.2" width="79.90" height="60.20"/></clipPath>
<rect x="265.7" y="493.2" width="79.90" height="60.20" fill="#333"/>
<g clip-path="url(#tc6)">
<ellipse cx="291.7" cy="513.6" rx="17.3" ry="13" transform="rotate(26 291.7 513.6)" fill="#5c5c5c" filter="url(#bl2)"/>
<ellipse cx="320.2" cy="527.3" rx="16.5" ry="14.2" transform="rotate(26 320.2 527.3)" fill="#5c5c5c" filter="url(#bl2)"/>
<g filter="url(#spk)">
<ellipse cx="291.7" cy="513.6" rx="18.1" ry="13.8" transform="rotate(26 291.7 513.6)" fill="#fff"/>
<ellipse cx="320.2" cy="527.3" rx="17.3" ry="15.0" transform="rotate(26 320.2 527.3)" fill="#fff"/>
</g>
<rect x="265.7" y="550.1999999999999" width="79.90" height="3.2" fill="#2c2c2c"/>
<text x="267.2" y="552.3" font-size="1.9" fill="#ddd">S-4800 5.0kV 3.9mm x70.0k SE(M)</text>
<text x="344.40000000000003" y="552.3" font-size="1.9" fill="#ddd" text-anchor="end">500nm</text>
<line x1="321.6" y1="549.3" x2="343.6" y2="549.3" stroke="#aaa" stroke-width="0.5" stroke-dasharray="0.5 1.7"/>
<rect x="321.5" y="542.2" width="21" height="2.3" fill="#fff"/>
</g>
<text x="453.6" y="429.3" font-size="14.6" fill="#000" text-anchor="middle" font-weight="normal" >Serum</text>
<text x="453.6" y="443.4" font-size="11.9" fill="#000" text-anchor="middle" font-weight="normal" >(50-fold diluted)</text>
<rect x="441.60" y="493.50" width="16.70" height="54.40" fill="#0a32ff" stroke="#000" stroke-width="1.4" />
<rect x="470.20" y="472.60" width="17.00" height="75.30" fill="#ff2600" stroke="#000" stroke-width="1.4" />
<line x1="402.6" y1="452" x2="402.6" y2="548.5" stroke="#000" stroke-width="1.3" />
<line x1="402.0" y1="547.9" x2="496.8" y2="547.9" stroke="#000" stroke-width="1.3" />
<line x1="400.0" y1="547.9" x2="402.6" y2="547.9" stroke="#000" stroke-width="1.0" />
<text x="399.0" y="550.5" font-size="7.1" fill="#000" text-anchor="end" font-weight="bold" >0</text>
<line x1="400.0" y1="528.9" x2="402.6" y2="528.9" stroke="#000" stroke-width="1.0" />
<text x="399.0" y="531.5" font-size="7.1" fill="#000" text-anchor="end" font-weight="bold" >10</text>
<line x1="400.0" y1="509.9" x2="402.6" y2="509.9" stroke="#000" stroke-width="1.0" />
<text x="399.0" y="512.5" font-size="7.1" fill="#000" text-anchor="end" font-weight="bold" >20</text>
<line x1="400.0" y1="490.9" x2="402.6" y2="490.9" stroke="#000" stroke-width="1.0" />
<text x="399.0" y="493.5" font-size="7.1" fill="#000" text-anchor="end" font-weight="bold" >30</text>
<line x1="400.0" y1="471.9" x2="402.6" y2="471.9" stroke="#000" stroke-width="1.0" />
<text x="399.0" y="474.5" font-size="7.1" fill="#000" text-anchor="end" font-weight="bold" >40</text>
<line x1="400.0" y1="452.9" x2="402.6" y2="452.9" stroke="#000" stroke-width="1.0" />
<text x="399.0" y="455.5" font-size="7.1" fill="#000" text-anchor="end" font-weight="bold" >50</text>
<line x1="421" y1="547.9" x2="421" y2="550.5" stroke="#000" stroke-width="1.0" />
<line x1="449.9" y1="547.9" x2="449.9" y2="550.5" stroke="#000" stroke-width="1.0" />
<line x1="478.7" y1="547.9" x2="478.7" y2="550.5" stroke="#000" stroke-width="1.0" />
<text transform="translate(420,557.5) rotate(-25)" font-size="10.6" fill="#5a8c37" stroke="#5a8c37" stroke-width="0.25" text-anchor="end" font-weight="normal">PPSV23</text>
<text transform="translate(453.5,557) rotate(-25)" font-size="10.6" fill="#1a72c4" stroke="#1a72c4" stroke-width="0.25" text-anchor="end" font-weight="normal">PCV13</text>
<text transform="translate(490.5,553) rotate(-25)" font-size="10.6" fill="#fb0d0d" stroke="#fb0d0d" stroke-width="0.25" text-anchor="end">CPS14<tspan font-size="8" dy="-3.5" font-weight="bold">+</tspan></text>
<text transform="translate(488,569) rotate(-25)" font-size="10.6" fill="#fb0d0d" stroke="#fb0d0d" stroke-width="0.25" text-anchor="end" font-weight="normal">MVs</text>
<text x="565.5" y="429.3" font-size="14.6" fill="#000" text-anchor="middle" font-weight="normal" >BALF</text>
<text x="565.5" y="443.4" font-size="11.9" fill="#000" text-anchor="middle" font-weight="normal" >(undiluted)</text>
<rect x="554.70" y="484.00" width="17.50" height="63.90" fill="#0a32ff" stroke="#000" stroke-width="1.4" />
<rect x="583.10" y="465.00" width="17.50" height="82.90" fill="#ff2600" stroke="#000" stroke-width="1.4" />
<line x1="515.2" y1="452" x2="515.2" y2="548.5" stroke="#000" stroke-width="1.3" />
<line x1="514.6" y1="547.9" x2="610.3" y2="547.9" stroke="#000" stroke-width="1.3" />
<line x1="512.6" y1="547.9" x2="515.2" y2="547.9" stroke="#000" stroke-width="1.0" />
<text x="511.6" y="550.5" font-size="7.1" fill="#000" text-anchor="end" font-weight="bold" >0</text>
<line x1="512.6" y1="528.9" x2="515.2" y2="528.9" stroke="#000" stroke-width="1.0" />
<text x="511.6" y="531.5" font-size="7.1" fill="#000" text-anchor="end" font-weight="bold" >10</text>
<line x1="512.6" y1="509.9" x2="515.2" y2="509.9" stroke="#000" stroke-width="1.0" />
<text x="511.6" y="512.5" font-size="7.1" fill="#000" text-anchor="end" font-weight="bold" >20</text>
<line x1="512.6" y1="490.9" x2="515.2" y2="490.9" stroke="#000" stroke-width="1.0" />
<text x="511.6" y="493.5" font-size="7.1" fill="#000" text-anchor="end" font-weight="bold" >30</text>
<line x1="512.6" y1="471.9" x2="515.2" y2="471.9" stroke="#000" stroke-width="1.0" />
<text x="511.6" y="474.5" font-size="7.1" fill="#000" text-anchor="end" font-weight="bold" >40</text>
<line x1="512.6" y1="452.9" x2="515.2" y2="452.9" stroke="#000" stroke-width="1.0" />
<text x="511.6" y="455.5" font-size="7.1" fill="#000" text-anchor="end" font-weight="bold" >50</text>
<line x1="535" y1="547.9" x2="535" y2="550.5" stroke="#000" stroke-width="1.0" />
<line x1="563.4" y1="547.9" x2="563.4" y2="550.5" stroke="#000" stroke-width="1.0" />
<line x1="591.8" y1="547.9" x2="591.8" y2="550.5" stroke="#000" stroke-width="1.0" />
<text transform="translate(541.5,557.5) rotate(-25)" font-size="10.6" fill="#5a8c37" stroke="#5a8c37" stroke-width="0.25" text-anchor="end" font-weight="normal">PPSV23</text>
<text transform="translate(574,557) rotate(-25)" font-size="10.6" fill="#1a72c4" stroke="#1a72c4" stroke-width="0.25" text-anchor="end" font-weight="normal">PCV13</text>
<text transform="translate(611.5,553) rotate(-25)" font-size="10.6" fill="#fb0d0d" stroke="#fb0d0d" stroke-width="0.25" text-anchor="end">CPS14<tspan font-size="8" dy="-3.5" font-weight="bold">+</tspan></text>
<text transform="translate(609.5,569) rotate(-25)" font-size="10.6" fill="#fb0d0d" stroke="#fb0d0d" stroke-width="0.25" text-anchor="end" font-weight="normal">MVs</text>
<text transform="translate(370.6,500) rotate(-90)" font-size="7.7" font-weight="bold" text-anchor="middle" fill="#000">Cells entirely covered with</text>
<text transform="translate(380.6,500) rotate(-90)" font-size="7.7" font-weight="bold" text-anchor="middle" fill="#000">immuno-gold (%)</text>
<rect x="616.80" y="447.40" width="68.00" height="51.40" fill="#fff" stroke="#000" stroke-width="1.2" />
<rect x="621.40" y="456.80" width="10.20" height="5.80" fill="#0b8a4f" stroke="#000" stroke-width="1.1" />
<text x="636.8" y="462.4" font-size="7.6" fill="#000" text-anchor="start" font-weight="normal" >PPSV23</text>
<rect x="621.40" y="470.30" width="10.20" height="5.80" fill="#0a32ff" stroke="#000" stroke-width="1.1" />
<text x="636.8" y="475.9" font-size="7.6" fill="#000" text-anchor="start" font-weight="normal" >PCV13</text>
<rect x="621.40" y="483.80" width="10.20" height="5.80" fill="#ff2600" stroke="#000" stroke-width="1.1" />
<text x="636.8" y="489.4" font-size="7.6" fill="#000">CPS14<tspan font-size="5" dy="-2.5">+</tspan><tspan dy="2.5">MVs</tspan></text>
<text x="1" y="622.3" font-size="18.2" fill="#000" text-anchor="start" font-weight="normal" >(D)</text>
<text x="92.8" y="631.2" font-size="14.7" fill="#000">Serum <tspan font-size="12">(1,000-fold diluted)</tspan></text>
<line x1="47" y1="636.2" x2="282.5" y2="636.2" stroke="#222" stroke-width="0.8" />
<text x="371" y="631.2" font-size="14.7" fill="#000">BALF <tspan font-size="12">(20-fold diluted)</tspan></text>
<line x1="318.5" y1="636.2" x2="555" y2="636.2" stroke="#222" stroke-width="0.8" />
<rect x="47.00" y="647.00" width="65.50" height="22.50" fill="#fff" stroke="#000" stroke-width="1.1" />
<text x="79.75" y="661.85" font-size="10.9" fill="#000" text-anchor="middle" font-weight="normal" >15 weeks</text>
<rect x="51.90" y="747.88" width="26.60" height="0.71" fill="#ffffff" stroke="#000" stroke-width="1.0" />
<rect x="51.90" y="737.88" width="26.60" height="10.01" fill="#c6c6c6" stroke="#000" stroke-width="1.0" />
<rect x="51.90" y="712.85" width="26.60" height="25.02" fill="#969696" stroke="#000" stroke-width="1.0" />
<rect x="51.90" y="687.11" width="26.60" height="25.74" fill="#5f5f5f" stroke="#000" stroke-width="1.0" />
<rect x="51.90" y="677.10" width="26.60" height="10.01" fill="#000000" stroke="#000" stroke-width="1.0" />
<rect x="85.50" y="740.74" width="26.50" height="7.86" fill="#ffffff" stroke="#000" stroke-width="1.0" />
<rect x="85.50" y="709.27" width="26.50" height="31.46" fill="#c6c6c6" stroke="#000" stroke-width="1.0" />
<rect x="85.50" y="686.39" width="26.50" height="22.88" fill="#969696" stroke="#000" stroke-width="1.0" />
<rect x="85.50" y="678.53" width="26.50" height="7.86" fill="#5f5f5f" stroke="#000" stroke-width="1.0" />
<rect x="85.50" y="677.10" width="26.50" height="1.43" fill="#000000" stroke="#000" stroke-width="1.0" />
<line x1="46" y1="676.6" x2="46" y2="749.1" stroke="#000" stroke-width="1.0" />
<line x1="45.5" y1="748.6" x2="114.0" y2="748.6" stroke="#000" stroke-width="1.0" />
<line x1="43.6" y1="748.6" x2="46" y2="748.6" stroke="#000" stroke-width="0.8" />
<text x="43" y="750.4" font-size="5.2" fill="#000" text-anchor="end" font-weight="bold" >0</text>
<line x1="44.5" y1="741.45" x2="46" y2="741.45" stroke="#000" stroke-width="0.8" />
<line x1="43.6" y1="734.3000000000001" x2="46" y2="734.3000000000001" stroke="#000" stroke-width="0.8" />
<text x="43" y="736.1" font-size="5.2" fill="#000" text-anchor="end" font-weight="bold" >20</text>
<line x1="44.5" y1="727.15" x2="46" y2="727.15" stroke="#000" stroke-width="0.8" />
<line x1="43.6" y1="720.0" x2="46" y2="720.0" stroke="#000" stroke-width="0.8" />
<text x="43" y="721.8" font-size="5.2" fill="#000" text-anchor="end" font-weight="bold" >40</text>
<line x1="44.5" y1="712.85" x2="46" y2="712.85" stroke="#000" stroke-width="0.8" />
<line x1="43.6" y1="705.7" x2="46" y2="705.7" stroke="#000" stroke-width="0.8" />
<text x="43" y="707.5" font-size="5.2" fill="#000" text-anchor="end" font-weight="bold" >60</text>
<line x1="44.5" y1="698.5500000000001" x2="46" y2="698.5500000000001" stroke="#000" stroke-width="0.8" />
<line x1="43.6" y1="691.4" x2="46" y2="691.4" stroke="#000" stroke-width="0.8" />
<text x="43" y="693.1999999999999" font-size="5.2" fill="#000" text-anchor="end" font-weight="bold" >80</text>
<line x1="44.5" y1="684.25" x2="46" y2="684.25" stroke="#000" stroke-width="0.8" />
<line x1="43.6" y1="677.1" x2="46" y2="677.1" stroke="#000" stroke-width="0.8" />
<text x="43" y="678.9" font-size="5.2" fill="#000" text-anchor="end" font-weight="bold" >100</text>
<text x="34.5" y="678.9" font-size="7.8" fill="#000" text-anchor="end" font-weight="normal" >(%)</text>
<line x1="65.2" y1="748.6" x2="65.2" y2="750.8000000000001" stroke="#000" stroke-width="0.9" />
<line x1="98.75" y1="748.6" x2="98.75" y2="750.8000000000001" stroke="#000" stroke-width="0.9" />
<text transform="translate(69.5,762.5) rotate(-25)" font-size="10.6" fill="#1a72c4" stroke="#1a72c4" stroke-width="0.25" text-anchor="end" font-weight="normal">PCV13</text>
<text transform="translate(108.5,759.5) rotate(-25)" font-size="10.6" fill="#fb0d0d" stroke="#fb0d0d" stroke-width="0.25" text-anchor="end">CPS14<tspan font-size="8" dy="-3.5" font-weight="bold">+</tspan></text>
<text transform="translate(105,775) rotate(-25)" font-size="10.6" fill="#fb0d0d" stroke="#fb0d0d" stroke-width="0.25" text-anchor="end" font-weight="normal">MVs</text>
<rect x="131.00" y="647.00" width="66.00" height="22.50" fill="#fff" stroke="#000" stroke-width="1.1" />
<text x="164.0" y="661.85" font-size="10.9" fill="#000" text-anchor="middle" font-weight="normal" >27 weeks</text>
<rect x="136.50" y="714.28" width="26.50" height="34.32" fill="#ffffff" stroke="#000" stroke-width="1.0" />
<rect x="136.50" y="678.89" width="26.50" height="35.39" fill="#c6c6c6" stroke="#000" stroke-width="1.0" />
<rect x="136.50" y="678.03" width="26.50" height="0.86" fill="#969696" stroke="#000" stroke-width="1.0" />
<rect x="136.50" y="677.46" width="26.50" height="0.57" fill="#5f5f5f" stroke="#000" stroke-width="1.0" />
<rect x="136.50" y="677.10" width="26.50" height="0.36" fill="#000000" stroke="#000" stroke-width="1.0" />
<rect x="170.10" y="747.88" width="26.40" height="0.71" fill="#ffffff" stroke="#000" stroke-width="1.0" />
<rect x="170.10" y="746.46" width="26.40" height="1.43" fill="#c6c6c6" stroke="#000" stroke-width="1.0" />
<rect x="170.10" y="746.10" width="26.40" height="0.36" fill="#969696" stroke="#000" stroke-width="1.0" />
<rect x="170.10" y="731.44" width="26.40" height="14.66" fill="#5f5f5f" stroke="#000" stroke-width="1.0" />
<rect x="170.10" y="677.10" width="26.40" height="54.34" fill="#000000" stroke="#000" stroke-width="1.0" />
<line x1="130.3" y1="676.6" x2="130.3" y2="749.1" stroke="#000" stroke-width="1.0" />
<line x1="129.8" y1="748.6" x2="198.5" y2="748.6" stroke="#000" stroke-width="1.0" />
<line x1="127.9" y1="748.6" x2="130.3" y2="748.6" stroke="#000" stroke-width="0.8" />
<text x="127.30000000000001" y="750.4" font-size="5.2" fill="#000" text-anchor="end" font-weight="bold" >0</text>
<line x1="128.8" y1="741.45" x2="130.3" y2="741.45" stroke="#000" stroke-width="0.8" />
<line x1="127.9" y1="734.3000000000001" x2="130.3" y2="734.3000000000001" stroke="#000" stroke-width="0.8" />
<text x="127.30000000000001" y="736.1" font-size="5.2" fill="#000" text-anchor="end" font-weight="bold" >20</text>
<line x1="128.8" y1="727.15" x2="130.3" y2="727.15" stroke="#000" stroke-width="0.8" />
<line x1="127.9" y1="720.0" x2="130.3" y2="720.0" stroke="#000" stroke-width="0.8" />
<text x="127.30000000000001" y="721.8" font-size="5.2" fill="#000" text-anchor="end" font-weight="bold" >40</text>
<line x1="128.8" y1="712.85" x2="130.3" y2="712.85" stroke="#000" stroke-width="0.8" />
<line x1="127.9" y1="705.7" x2="130.3" y2="705.7" stroke="#000" stroke-width="0.8" />
<text x="127.30000000000001" y="707.5" font-size="5.2" fill="#000" text-anchor="end" font-weight="bold" >60</text>
<line x1="128.8" y1="698.5500000000001" x2="130.3" y2="698.5500000000001" stroke="#000" stroke-width="0.8" />
<line x1="127.9" y1="691.4" x2="130.3" y2="691.4" stroke="#000" stroke-width="0.8" />
<text x="127.30000000000001" y="693.1999999999999" font-size="5.2" fill="#000" text-anchor="end" font-weight="bold" >80</text>
<line x1="128.8" y1="684.25" x2="130.3" y2="684.25" stroke="#000" stroke-width="0.8" />
<line x1="127.9" y1="677.1" x2="130.3" y2="677.1" stroke="#000" stroke-width="0.8" />
<text x="127.30000000000001" y="678.9" font-size="5.2" fill="#000" text-anchor="end" font-weight="bold" >100</text>
<line x1="149.75" y1="748.6" x2="149.75" y2="750.8000000000001" stroke="#000" stroke-width="0.9" />
<line x1="183.3" y1="748.6" x2="183.3" y2="750.8000000000001" stroke="#000" stroke-width="0.9" />
<text transform="translate(157.5,762.5) rotate(-25)" font-size="10.6" fill="#1a72c4" stroke="#1a72c4" stroke-width="0.25" text-anchor="end" font-weight="normal">PCV13</text>
<text transform="translate(194.5,759.5) rotate(-25)" font-size="10.6" fill="#fb0d0d" stroke="#fb0d0d" stroke-width="0.25" text-anchor="end">CPS14<tspan font-size="8" dy="-3.5" font-weight="bold">+</tspan></text>
<text transform="translate(191.5,775) rotate(-25)" font-size="10.6" fill="#fb0d0d" stroke="#fb0d0d" stroke-width="0.25" text-anchor="end" font-weight="normal">MVs</text>
<rect x="216.00" y="648.00" width="65.80" height="22.50" fill="#fff" stroke="#000" stroke-width="1.1" />
<text x="248.9" y="662.85" font-size="10.9" fill="#000" text-anchor="middle" font-weight="normal" >62 weeks</text>
<rect x="221.70" y="682.82" width="26.60" height="65.78" fill="#ffffff" stroke="#000" stroke-width="1.0" />
<rect x="221.70" y="677.82" width="26.60" height="5.00" fill="#c6c6c6" stroke="#000" stroke-width="1.0" />
<rect x="221.70" y="677.46" width="26.60" height="0.36" fill="#969696" stroke="#000" stroke-width="1.0" />
<rect x="221.70" y="677.10" width="26.60" height="0.36" fill="#5f5f5f" stroke="#000" stroke-width="1.0" />
<rect x="255.30" y="724.29" width="26.50" height="24.31" fill="#ffffff" stroke="#000" stroke-width="1.0" />
<rect x="255.30" y="683.54" width="26.50" height="40.75" fill="#c6c6c6" stroke="#000" stroke-width="1.0" />
<rect x="255.30" y="679.96" width="26.50" height="3.57" fill="#969696" stroke="#000" stroke-width="1.0" />
<rect x="255.30" y="677.82" width="26.50" height="2.15" fill="#5f5f5f" stroke="#000" stroke-width="1.0" />
<rect x="255.30" y="677.10" width="26.50" height="0.71" fill="#000000" stroke="#000" stroke-width="1.0" />
<line x1="214.6" y1="676.6" x2="214.6" y2="749.1" stroke="#000" stroke-width="1.0" />
<line x1="214.1" y1="748.6" x2="287.3" y2="748.6" stroke="#000" stroke-width="1.0" />
<line x1="212.2" y1="748.6" x2="214.6" y2="748.6" stroke="#000" stroke-width="0.8" />
<text x="211.6" y="750.4" font-size="5.2" fill="#000" text-anchor="end" font-weight="bold" >0</text>
<line x1="213.1" y1="741.45" x2="214.6" y2="741.45" stroke="#000" stroke-width="0.8" />
<line x1="212.2" y1="734.3000000000001" x2="214.6" y2="734.3000000000001" stroke="#000" stroke-width="0.8" />
<text x="211.6" y="736.1" font-size="5.2" fill="#000" text-anchor="end" font-weight="bold" >20</text>
<line x1="213.1" y1="727.15" x2="214.6" y2="727.15" stroke="#000" stroke-width="0.8" />
<line x1="212.2" y1="720.0" x2="214.6" y2="720.0" stroke="#000" stroke-width="0.8" />
<text x="211.6" y="721.8" font-size="5.2" fill="#000" text-anchor="end" font-weight="bold" >40</text>
<line x1="213.1" y1="712.85" x2="214.6" y2="712.85" stroke="#000" stroke-width="0.8" />
<line x1="212.2" y1="705.7" x2="214.6" y2="705.7" stroke="#000" stroke-width="0.8" />
<text x="211.6" y="707.5" font-size="5.2" fill="#000" text-anchor="end" font-weight="bold" >60</text>
<line x1="213.1" y1="698.5500000000001" x2="214.6" y2="698.5500000000001" stroke="#000" stroke-width="0.8" />
<line x1="212.2" y1="691.4" x2="214.6" y2="691.4" stroke="#000" stroke-width="0.8" />
<text x="211.6" y="693.1999999999999" font-size="5.2" fill="#000" text-anchor="end" font-weight="bold" >80</text>
<line x1="213.1" y1="684.25" x2="214.6" y2="684.25" stroke="#000" stroke-width="0.8" />
<line x1="212.2" y1="677.1" x2="214.6" y2="677.1" stroke="#000" stroke-width="0.8" />
<text x="211.6" y="678.9" font-size="5.2" fill="#000" text-anchor="end" font-weight="bold" >100</text>
<line x1="235.0" y1="748.6" x2="235.0" y2="750.8000000000001" stroke="#000" stroke-width="0.9" />
<line x1="268.55" y1="748.6" x2="268.55" y2="750.8000000000001" stroke="#000" stroke-width="0.9" />
<text transform="translate(241.8,762.5) rotate(-25)" font-size="10.6" fill="#1a72c4" stroke="#1a72c4" stroke-width="0.25" text-anchor="end" font-weight="normal">PCV13</text>
<text transform="translate(281.8,759.5) rotate(-25)" font-size="10.6" fill="#fb0d0d" stroke="#fb0d0d" stroke-width="0.25" text-anchor="end">CPS14<tspan font-size="8" dy="-3.5" font-weight="bold">+</tspan></text>
<text transform="translate(278,775) rotate(-25)" font-size="10.6" fill="#fb0d0d" stroke="#fb0d0d" stroke-width="0.25" text-anchor="end" font-weight="normal">MVs</text>
<rect x="321.00" y="647.40" width="65.40" height="22.60" fill="#fff" stroke="#000" stroke-width="1.1" />
<text x="353.7" y="662.3000000000001" font-size="10.9" fill="#000" text-anchor="middle" font-weight="normal" >15 weeks</text>
<rect x="326.50" y="732.15" width="26.50" height="16.45" fill="#ffffff" stroke="#000" stroke-width="1.0" />
<rect x="326.50" y="694.98" width="26.50" height="37.18" fill="#c6c6c6" stroke="#000" stroke-width="1.0" />
<rect x="326.50" y="684.25" width="26.50" height="10.72" fill="#969696" stroke="#000" stroke-width="1.0" />
<rect x="326.50" y="679.25" width="26.50" height="5.00" fill="#5f5f5f" stroke="#000" stroke-width="1.0" />
<rect x="326.50" y="677.10" width="26.50" height="2.15" fill="#000000" stroke="#000" stroke-width="1.0" />
<rect x="360.10" y="725.72" width="26.40" height="22.88" fill="#c6c6c6" stroke="#000" stroke-width="1.0" />
<rect x="360.10" y="694.98" width="26.40" height="30.74" fill="#969696" stroke="#000" stroke-width="1.0" />
<rect x="360.10" y="681.39" width="26.40" height="13.58" fill="#5f5f5f" stroke="#000" stroke-width="1.0" />
<rect x="360.10" y="677.10" width="26.40" height="4.29" fill="#000000" stroke="#000" stroke-width="1.0" />
<line x1="320.3" y1="676.6" x2="320.3" y2="749.1" stroke="#000" stroke-width="1.0" />
<line x1="319.8" y1="748.6" x2="387" y2="748.6" stroke="#000" stroke-width="1.0" />
<line x1="317.90000000000003" y1="748.6" x2="320.3" y2="748.6" stroke="#000" stroke-width="0.8" />
<text x="317.3" y="750.4" font-size="5.2" fill="#000" text-anchor="end" font-weight="bold" >0</text>
<line x1="318.8" y1="741.45" x2="320.3" y2="741.45" stroke="#000" stroke-width="0.8" />
<line x1="317.90000000000003" y1="734.3000000000001" x2="320.3" y2="734.3000000000001" stroke="#000" stroke-width="0.8" />
<text x="317.3" y="736.1" font-size="5.2" fill="#000" text-anchor="end" font-weight="bold" >20</text>
<line x1="318.8" y1="727.15" x2="320.3" y2="727.15" stroke="#000" stroke-width="0.8" />
<line x1="317.90000000000003" y1="720.0" x2="320.3" y2="720.0" stroke="#000" stroke-width="0.8" />
<text x="317.3" y="721.8" font-size="5.2" fill="#000" text-anchor="end" font-weight="bold" >40</text>
<line x1="318.8" y1="712.85" x2="320.3" y2="712.85" stroke="#000" stroke-width="0.8" />
<line x1="317.90000000000003" y1="705.7" x2="320.3" y2="705.7" stroke="#000" stroke-width="0.8" />
<text x="317.3" y="707.5" font-size="5.2" fill="#000" text-anchor="end" font-weight="bold" >60</text>
<line x1="318.8" y1="698.5500000000001" x2="320.3" y2="698.5500000000001" stroke="#000" stroke-width="0.8" />
<line x1="317.90000000000003" y1="691.4" x2="320.3" y2="691.4" stroke="#000" stroke-width="0.8" />
<text x="317.3" y="693.1999999999999" font-size="5.2" fill="#000" text-anchor="end" font-weight="bold" >80</text>
<line x1="318.8" y1="684.25" x2="320.3" y2="684.25" stroke="#000" stroke-width="0.8" />
<line x1="317.90000000000003" y1="677.1" x2="320.3" y2="677.1" stroke="#000" stroke-width="0.8" />
<text x="317.3" y="678.9" font-size="5.2" fill="#000" text-anchor="end" font-weight="bold" >100</text>
<text x="308.8" y="678.9" font-size="7.8" fill="#000" text-anchor="end" font-weight="normal" >(%)</text>
<line x1="339.75" y1="748.6" x2="339.75" y2="750.8000000000001" stroke="#000" stroke-width="0.9" />
<line x1="373.3" y1="748.6" x2="373.3" y2="750.8000000000001" stroke="#000" stroke-width="0.9" />
<text transform="translate(348,762.5) rotate(-25)" font-size="10.6" fill="#1a72c4" stroke="#1a72c4" stroke-width="0.25" text-anchor="end" font-weight="normal">PCV13</text>
<text transform="translate(386.7,759.5) rotate(-25)" font-size="10.6" fill="#fb0d0d" stroke="#fb0d0d" stroke-width="0.25" text-anchor="end">CPS14<tspan font-size="8" dy="-3.5" font-weight="bold">+</tspan></text>
<text transform="translate(383.7,775) rotate(-25)" font-size="10.6" fill="#fb0d0d" stroke="#fb0d0d" stroke-width="0.25" text-anchor="end" font-weight="normal">MVs</text>
<rect x="406.40" y="647.40" width="65.60" height="22.60" fill="#fff" stroke="#000" stroke-width="1.1" />
<text x="439.2" y="662.3000000000001" font-size="10.9" fill="#000" text-anchor="middle" font-weight="normal" >27 weeks</text>
<rect x="410.30" y="693.55" width="26.50" height="55.05" fill="#ffffff" stroke="#000" stroke-width="1.0" />
<rect x="410.30" y="678.53" width="26.50" height="15.01" fill="#c6c6c6" stroke="#000" stroke-width="1.0" />
<rect x="410.30" y="677.96" width="26.50" height="0.57" fill="#969696" stroke="#000" stroke-width="1.0" />
<rect x="410.30" y="677.46" width="26.50" height="0.50" fill="#5f5f5f" stroke="#000" stroke-width="1.0" />
<rect x="410.30" y="677.10" width="26.50" height="0.36" fill="#000000" stroke="#000" stroke-width="1.0" />
<rect x="444.80" y="747.88" width="26.20" height="0.71" fill="#ffffff" stroke="#000" stroke-width="1.0" />
<rect x="444.80" y="741.45" width="26.20" height="6.43" fill="#c6c6c6" stroke="#000" stroke-width="1.0" />
<rect x="444.80" y="722.86" width="26.20" height="18.59" fill="#969696" stroke="#000" stroke-width="1.0" />
<rect x="444.80" y="682.82" width="26.20" height="40.04" fill="#5f5f5f" stroke="#000" stroke-width="1.0" />
<rect x="444.80" y="677.10" width="26.20" height="5.72" fill="#000000" stroke="#000" stroke-width="1.0" />
<line x1="404.2" y1="676.6" x2="404.2" y2="749.1" stroke="#000" stroke-width="1.0" />
<line x1="403.7" y1="748.6" x2="472.8" y2="748.6" stroke="#000" stroke-width="1.0" />
<line x1="401.8" y1="748.6" x2="404.2" y2="748.6" stroke="#000" stroke-width="0.8" />
<text x="401.2" y="750.4" font-size="5.2" fill="#000" text-anchor="end" font-weight="bold" >0</text>
<line x1="402.7" y1="741.45" x2="404.2" y2="741.45" stroke="#000" stroke-width="0.8" />
<line x1="401.8" y1="734.3000000000001" x2="404.2" y2="734.3000000000001" stroke="#000" stroke-width="0.8" />
<text x="401.2" y="736.1" font-size="5.2" fill="#000" text-anchor="end" font-weight="bold" >20</text>
<line x1="402.7" y1="727.15" x2="404.2" y2="727.15" stroke="#000" stroke-width="0.8" />
<line x1="401.8" y1="720.0" x2="404.2" y2="720.0" stroke="#000" stroke-width="0.8" />
<text x="401.2" y="721.8" font-size="5.2" fill="#000" text-anchor="end" font-weight="bold" >40</text>
<line x1="402.7" y1="712.85" x2="404.2" y2="712.85" stroke="#000" stroke-width="0.8" />
<line x1="401.8" y1="705.7" x2="404.2" y2="705.7" stroke="#000" stroke-width="0.8" />
<text x="401.2" y="707.5" font-size="5.2" fill="#000" text-anchor="end" font-weight="bold" >60</text>
<line x1="402.7" y1="698.5500000000001" x2="404.2" y2="698.5500000000001" stroke="#000" stroke-width="0.8" />
<line x1="401.8" y1="691.4" x2="404.2" y2="691.4" stroke="#000" stroke-width="0.8" />
<text x="401.2" y="693.1999999999999" font-size="5.2" fill="#000" text-anchor="end" font-weight="bold" >80</text>
<line x1="402.7" y1="684.25" x2="404.2" y2="684.25" stroke="#000" stroke-width="0.8" />
<line x1="401.8" y1="677.1" x2="404.2" y2="677.1" stroke="#000" stroke-width="0.8" />
<text x="401.2" y="678.9" font-size="5.2" fill="#000" text-anchor="end" font-weight="bold" >100</text>
<line x1="423.55" y1="748.6" x2="423.55" y2="750.8000000000001" stroke="#000" stroke-width="0.9" />
<line x1="457.9" y1="748.6" x2="457.9" y2="750.8000000000001" stroke="#000" stroke-width="0.9" />
<text transform="translate(432.5,762.5) rotate(-25)" font-size="10.6" fill="#1a72c4" stroke="#1a72c4" stroke-width="0.25" text-anchor="end" font-weight="normal">PCV13</text>
<text transform="translate(475.5,759.5) rotate(-25)" font-size="10.6" fill="#fb0d0d" stroke="#fb0d0d" stroke-width="0.25" text-anchor="end">CPS14<tspan font-size="8" dy="-3.5" font-weight="bold">+</tspan></text>
<text transform="translate(472,775) rotate(-25)" font-size="10.6" fill="#fb0d0d" stroke="#fb0d0d" stroke-width="0.25" text-anchor="end" font-weight="normal">MVs</text>
<rect x="491.50" y="648.70" width="66.50" height="22.30" fill="#fff" stroke="#000" stroke-width="1.1" />
<text x="524.75" y="663.45" font-size="10.9" fill="#000" text-anchor="middle" font-weight="normal" >62 weeks</text>
<rect x="497.10" y="678.53" width="26.40" height="70.07" fill="#ffffff" stroke="#000" stroke-width="1.0" />
<rect x="497.10" y="677.82" width="26.40" height="0.71" fill="#c6c6c6" stroke="#000" stroke-width="1.0" />
<rect x="497.10" y="677.46" width="26.40" height="0.36" fill="#969696" stroke="#000" stroke-width="1.0" />
<rect x="497.10" y="677.10" width="26.40" height="0.36" fill="#5f5f5f" stroke="#000" stroke-width="1.0" />
<rect x="531.00" y="734.30" width="26.50" height="14.30" fill="#ffffff" stroke="#000" stroke-width="1.0" />
<rect x="531.00" y="699.26" width="26.50" height="35.03" fill="#c6c6c6" stroke="#000" stroke-width="1.0" />
<rect x="531.00" y="681.39" width="26.50" height="17.88" fill="#969696" stroke="#000" stroke-width="1.0" />
<rect x="531.00" y="678.53" width="26.50" height="2.86" fill="#5f5f5f" stroke="#000" stroke-width="1.0" />
<rect x="531.00" y="677.10" width="26.50" height="1.43" fill="#000000" stroke="#000" stroke-width="1.0" />
<line x1="491.5" y1="676.6" x2="491.5" y2="749.1" stroke="#000" stroke-width="1.0" />
<line x1="491.0" y1="748.6" x2="564" y2="748.6" stroke="#000" stroke-width="1.0" />
<line x1="489.1" y1="748.6" x2="491.5" y2="748.6" stroke="#000" stroke-width="0.8" />
<text x="488.5" y="750.4" font-size="5.2" fill="#000" text-anchor="end" font-weight="bold" >0</text>
<line x1="490.0" y1="741.45" x2="491.5" y2="741.45" stroke="#000" stroke-width="0.8" />
<line x1="489.1" y1="734.3000000000001" x2="491.5" y2="734.3000000000001" stroke="#000" stroke-width="0.8" />
<text x="488.5" y="736.1" font-size="5.2" fill="#000" text-anchor="end" font-weight="bold" >20</text>
<line x1="490.0" y1="727.15" x2="491.5" y2="727.15" stroke="#000" stroke-width="0.8" />
<line x1="489.1" y1="720.0" x2="491.5" y2="720.0" stroke="#000" stroke-width="0.8" />
<text x="488.5" y="721.8" font-size="5.2" fill="#000" text-anchor="end" font-weight="bold" >40</text>
<line x1="490.0" y1="712.85" x2="491.5" y2="712.85" stroke="#000" stroke-width="0.8" />
<line x1="489.1" y1="705.7" x2="491.5" y2="705.7" stroke="#000" stroke-width="0.8" />
<text x="488.5" y="707.5" font-size="5.2" fill="#000" text-anchor="end" font-weight="bold" >60</text>
<line x1="490.0" y1="698.5500000000001" x2="491.5" y2="698.5500000000001" stroke="#000" stroke-width="0.8" />
<line x1="489.1" y1="691.4" x2="491.5" y2="691.4" stroke="#000" stroke-width="0.8" />
<text x="488.5" y="693.1999999999999" font-size="5.2" fill="#000" text-anchor="end" font-weight="bold" >80</text>
<line x1="490.0" y1="684.25" x2="491.5" y2="684.25" stroke="#000" stroke-width="0.8" />
<line x1="489.1" y1="677.1" x2="491.5" y2="677.1" stroke="#000" stroke-width="0.8" />
<text x="488.5" y="678.9" font-size="5.2" fill="#000" text-anchor="end" font-weight="bold" >100</text>
<line x1="510.3" y1="748.6" x2="510.3" y2="750.8000000000001" stroke="#000" stroke-width="0.9" />
<line x1="544.25" y1="748.6" x2="544.25" y2="750.8000000000001" stroke="#000" stroke-width="0.9" />
<text transform="translate(517.5,762.5) rotate(-25)" font-size="10.6" fill="#1a72c4" stroke="#1a72c4" stroke-width="0.25" text-anchor="end" font-weight="normal">PCV13</text>
<text transform="translate(559.3,759.5) rotate(-25)" font-size="10.6" fill="#fb0d0d" stroke="#fb0d0d" stroke-width="0.25" text-anchor="end">CPS14<tspan font-size="8" dy="-3.5" font-weight="bold">+</tspan></text>
<text transform="translate(556,775) rotate(-25)" font-size="10.6" fill="#fb0d0d" stroke="#fb0d0d" stroke-width="0.25" text-anchor="end" font-weight="normal">MVs</text>
<text x="593.2" y="645.6" font-size="8.2" fill="#000" text-anchor="start" font-weight="normal" >Colloidal-gold</text>
<text x="593.2" y="655.3" font-size="8.2" fill="#000" text-anchor="start" font-weight="normal" >particle nos./cell</text>
<rect x="598.80" y="660.40" width="48.70" height="87.30" fill="#fff" stroke="#000" stroke-width="1.2" />
<rect x="607.60" y="666.70" width="12.80" height="6.60" fill="#000000" stroke="#000" stroke-width="1.4" />
<text x="633.6" y="672.9" font-size="8.2" fill="#000" text-anchor="middle" font-weight="normal" >≥20</text>
<rect x="607.60" y="683.63" width="12.80" height="6.60" fill="#5f5f5f" stroke="#000" stroke-width="1.4" />
<text x="633.6" y="689.8299999999999" font-size="8.2" fill="#000" text-anchor="middle" font-weight="normal" >&lt;20</text>
<rect x="607.60" y="700.56" width="12.80" height="6.60" fill="#969696" stroke="#000" stroke-width="1.4" />
<text x="633.6" y="706.76" font-size="8.2" fill="#000" text-anchor="middle" font-weight="normal" >&lt;10</text>
<rect x="607.60" y="717.49" width="12.80" height="6.60" fill="#c6c6c6" stroke="#000" stroke-width="1.4" />
<text x="633.6" y="723.6899999999999" font-size="8.2" fill="#000" text-anchor="middle" font-weight="normal" >&lt;5</text>
<rect x="607.60" y="734.42" width="12.80" height="6.60" fill="#ffffff" stroke="#000" stroke-width="1.4" />
<text x="633.6" y="740.62" font-size="8.2" fill="#000" text-anchor="middle" font-weight="normal" >0</text>
<rect x="580.3" y="779.8" width="0.7" height="1.7" fill="#666"/>
</svg>
</body></html>
